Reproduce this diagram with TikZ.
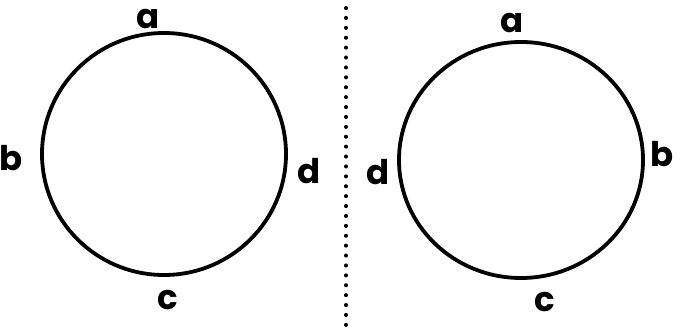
\documentclass[tikz,border=0pt]{standalone}
\usepackage{fontspec}
\setmainfont{Poppins}
\usetikzlibrary{shapes.geometric}
\begin{document}
\begin{tikzpicture}[x=1pt,y=-1pt,
  ring/.style={draw=black,line width=3.8pt,ellipse,inner sep=0pt},
  lbl/.style={font=\fontsize{34}{34}\selectfont\bfseries,inner sep=0pt,anchor=base},
  sep/.style={line width=4pt,dash pattern=on 0.1pt off 9.8pt,line cap=round}]
\useasboundingbox (0,0) rectangle (687,328);
\node[ring,minimum width=244pt,minimum height=242pt] (L) at (164,154) {};
\node[ring,minimum width=244pt,minimum height=236pt] (R) at (521,160) {};
\coordinate (t) at (346,8);
\coordinate (bt) at (346,326);
\draw[sep] (t) -- (bt);
\node[lbl] (la) at (148,29) {a};
\node[lbl] (lb) at (11,171) {b};
\node[lbl] (ld) at (309,184) {d};
\node[lbl] (lc) at (168,309) {c};
\node[lbl] (ra) at (512,33) {a};
\node[lbl] (rd) at (378,185) {d};
\node[lbl] (rb) at (662,167) {b};
\node[lbl] (rc) at (545,311) {c};
\end{tikzpicture}
\end{document}
